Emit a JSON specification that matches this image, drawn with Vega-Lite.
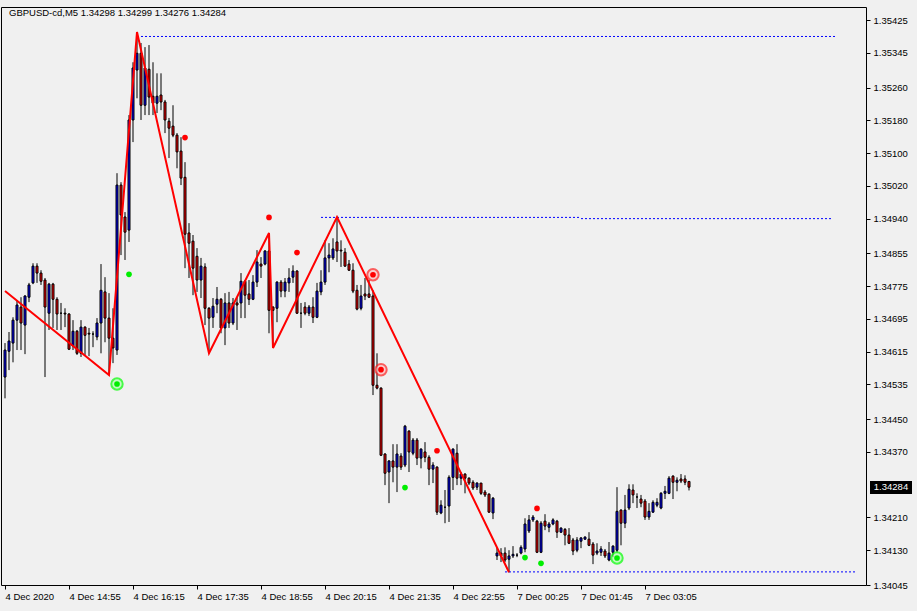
{
"$schema":"https://vega.github.io/schema/vega-lite/v6.json",
"width":865,"height":578,
"autosize":{"type":"none"},
"padding":{"left":1,"top":7,"right":51,"bottom":26},
"background":"#f0f0f0",
"config":{"view":{"stroke":"#000000","strokeWidth":1,"fill":"#f0f0f0"},"font":"Liberation Sans","axis":{"labelOverlap":false,"title":null,"grid":false},"scale":{"continuousPadding":0}},
"datasets":{
"bars":[
{"i":0,"o":1.34553,"h":1.34636,"l":1.34501,"c":1.34619},
{"i":1,"o":1.34616,"h":1.34663,"l":1.34570,"c":1.34641},
{"i":2,"o":1.34636,"h":1.34699,"l":1.34589,"c":1.34692},
{"i":3,"o":1.34692,"h":1.34741,"l":1.34619,"c":1.34729},
{"i":4,"o":1.34724,"h":1.34748,"l":1.34619,"c":1.34685},
{"i":5,"o":1.34680,"h":1.34753,"l":1.34609,"c":1.34751},
{"i":6,"o":1.34748,"h":1.34783,"l":1.34736,"c":1.34778},
{"i":7,"o":1.34783,"h":1.34831,"l":1.34780,"c":1.34824},
{"i":8,"o":1.34824,"h":1.34831,"l":1.34783,"c":1.34807},
{"i":9,"o":1.34807,"h":1.34814,"l":1.34778,"c":1.34787},
{"i":10,"o":1.34790,"h":1.34795,"l":1.34553,"c":1.34724},
{"i":11,"o":1.34709,"h":1.34783,"l":1.34668,"c":1.34780},
{"i":12,"o":1.34780,"h":1.34783,"l":1.34673,"c":1.34743},
{"i":13,"o":1.34743,"h":1.34748,"l":1.34668,"c":1.34707},
{"i":14,"o":1.34709,"h":1.34734,"l":1.34668,"c":1.34709},
{"i":15,"o":1.34709,"h":1.34721,"l":1.34675,"c":1.34707},
{"i":16,"o":1.34707,"h":1.34709,"l":1.34619,"c":1.34621},
{"i":17,"o":1.34629,"h":1.34692,"l":1.34619,"c":1.34665},
{"i":18,"o":1.34665,"h":1.34668,"l":1.34607,"c":1.34611},
{"i":19,"o":1.34611,"h":1.34692,"l":1.34602,"c":1.34675},
{"i":20,"o":1.34675,"h":1.34677,"l":1.34607,"c":1.34655},
{"i":21,"o":1.34660,"h":1.34673,"l":1.34604,"c":1.34658},
{"i":22,"o":1.34658,"h":1.34665,"l":1.34626,"c":1.34658},
{"i":23,"o":1.34651,"h":1.34697,"l":1.34643,"c":1.34685},
{"i":24,"o":1.34685,"h":1.34829,"l":1.34611,"c":1.34765},
{"i":25,"o":1.34761,"h":1.34797,"l":1.34638,"c":1.34697},
{"i":26,"o":1.34697,"h":1.34758,"l":1.34558,"c":1.34648},
{"i":27,"o":1.34648,"h":1.34721,"l":1.34587,"c":1.34624},
{"i":28,"o":1.34619,"h":1.35051,"l":1.34607,"c":1.35022},
{"i":29,"o":1.35022,"h":1.35029,"l":1.34851,"c":1.34949},
{"i":30,"o":1.34944,"h":1.34956,"l":1.34839,"c":1.34907},
{"i":31,"o":1.34912,"h":1.35193,"l":1.34883,"c":1.35181},
{"i":32,"o":1.35181,"h":1.35322,"l":1.35127,"c":1.35308},
{"i":33,"o":1.35303,"h":1.35396,"l":1.35234,"c":1.35344},
{"i":34,"o":1.35344,"h":1.35369,"l":1.35181,"c":1.35217},
{"i":35,"o":1.35217,"h":1.35359,"l":1.35193,"c":1.35308},
{"i":36,"o":1.35305,"h":1.35364,"l":1.35193,"c":1.35237},
{"i":37,"o":1.35239,"h":1.35322,"l":1.35193,"c":1.35222},
{"i":38,"o":1.35222,"h":1.35295,"l":1.35198,"c":1.35239},
{"i":39,"o":1.35242,"h":1.35295,"l":1.35205,"c":1.35225},
{"i":40,"o":1.35225,"h":1.35230,"l":1.35149,"c":1.35181},
{"i":41,"o":1.35178,"h":1.35186,"l":1.35088,"c":1.35161},
{"i":42,"o":1.35166,"h":1.35217,"l":1.35139,"c":1.35144},
{"i":43,"o":1.35144,"h":1.35149,"l":1.35063,"c":1.35103},
{"i":44,"o":1.35105,"h":1.35139,"l":1.35022,"c":1.35039},
{"i":45,"o":1.35041,"h":1.35078,"l":1.34819,"c":1.34902},
{"i":46,"o":1.34905,"h":1.34929,"l":1.34795,"c":1.34880},
{"i":47,"o":1.34885,"h":1.34900,"l":1.34753,"c":1.34819},
{"i":48,"o":1.34848,"h":1.34868,"l":1.34761,"c":1.34790},
{"i":49,"o":1.34790,"h":1.34844,"l":1.34746,"c":1.34824},
{"i":50,"o":1.34822,"h":1.34831,"l":1.34680,"c":1.34721},
{"i":51,"o":1.34721,"h":1.34724,"l":1.34611,"c":1.34697},
{"i":52,"o":1.34699,"h":1.34746,"l":1.34673,"c":1.34726},
{"i":53,"o":1.34731,"h":1.34773,"l":1.34709,"c":1.34743},
{"i":54,"o":1.34743,"h":1.34746,"l":1.34660,"c":1.34673},
{"i":55,"o":1.34673,"h":1.34758,"l":1.34631,"c":1.34734},
{"i":56,"o":1.34734,"h":1.34761,"l":1.34673,"c":1.34685},
{"i":57,"o":1.34685,"h":1.34746,"l":1.34680,"c":1.34734},
{"i":58,"o":1.34734,"h":1.34748,"l":1.34668,"c":1.34729},
{"i":59,"o":1.34734,"h":1.34807,"l":1.34697,"c":1.34787},
{"i":60,"o":1.34787,"h":1.34790,"l":1.34697,"c":1.34753},
{"i":61,"o":1.34756,"h":1.34790,"l":1.34729,"c":1.34743},
{"i":62,"o":1.34743,"h":1.34802,"l":1.34741,"c":1.34785},
{"i":63,"o":1.34785,"h":1.34863,"l":1.34773,"c":1.34834},
{"i":64,"o":1.34829,"h":1.34846,"l":1.34795,"c":1.34824},
{"i":65,"o":1.34829,"h":1.34863,"l":1.34826,"c":1.34861},
{"i":66,"o":1.34861,"h":1.34905,"l":1.34660,"c":1.34716},
{"i":67,"o":1.34724,"h":1.34726,"l":1.34624,"c":1.34716},
{"i":68,"o":1.34721,"h":1.34787,"l":1.34687,"c":1.34785},
{"i":69,"o":1.34785,"h":1.34790,"l":1.34748,"c":1.34763},
{"i":70,"o":1.34763,"h":1.34795,"l":1.34748,"c":1.34785},
{"i":71,"o":1.34783,"h":1.34819,"l":1.34761,"c":1.34795},
{"i":72,"o":1.34797,"h":1.34826,"l":1.34783,"c":1.34812},
{"i":73,"o":1.34812,"h":1.34814,"l":1.34707,"c":1.34709},
{"i":74,"o":1.34709,"h":1.34734,"l":1.34673,"c":1.34709},
{"i":75,"o":1.34724,"h":1.34736,"l":1.34704,"c":1.34709},
{"i":76,"o":1.34709,"h":1.34729,"l":1.34702,"c":1.34724},
{"i":77,"o":1.34724,"h":1.34748,"l":1.34685,"c":1.34699},
{"i":78,"o":1.34699,"h":1.34783,"l":1.34697,"c":1.34763},
{"i":79,"o":1.34761,"h":1.34814,"l":1.34753,"c":1.34785},
{"i":80,"o":1.34785,"h":1.34887,"l":1.34778,"c":1.34844},
{"i":81,"o":1.34844,"h":1.34880,"l":1.34809,"c":1.34851},
{"i":82,"o":1.34844,"h":1.34892,"l":1.34839,"c":1.34866},
{"i":83,"o":1.34883,"h":1.34944,"l":1.34834,"c":1.34861},
{"i":84,"o":1.34863,"h":1.34887,"l":1.34822,"c":1.34861},
{"i":85,"o":1.34858,"h":1.34868,"l":1.34822,"c":1.34824},
{"i":86,"o":1.34829,"h":1.34839,"l":1.34812,"c":1.34814},
{"i":87,"o":1.34814,"h":1.34831,"l":1.34758,"c":1.34763},
{"i":88,"o":1.34765,"h":1.34778,"l":1.34716,"c":1.34719},
{"i":89,"o":1.34721,"h":1.34778,"l":1.34716,"c":1.34751},
{"i":90,"o":1.34756,"h":1.34795,"l":1.34741,"c":1.34751},
{"i":91,"o":1.34756,"h":1.34790,"l":1.34746,"c":1.34748},
{"i":92,"o":1.34751,"h":1.34765,"l":1.34509,"c":1.34533},
{"i":93,"o":1.34533,"h":1.34611,"l":1.34523,"c":1.34526},
{"i":94,"o":1.34526,"h":1.34528,"l":1.34360,"c":1.34362},
{"i":95,"o":1.34365,"h":1.34367,"l":1.34289,"c":1.34318},
{"i":96,"o":1.34321,"h":1.34350,"l":1.34245,"c":1.34348},
{"i":97,"o":1.34348,"h":1.34389,"l":1.34296,"c":1.34333},
{"i":98,"o":1.34333,"h":1.34389,"l":1.34272,"c":1.34365},
{"i":99,"o":1.34360,"h":1.34367,"l":1.34326,"c":1.34333},
{"i":100,"o":1.34338,"h":1.34436,"l":1.34333,"c":1.34433},
{"i":101,"o":1.34421,"h":1.34423,"l":1.34321,"c":1.34370},
{"i":102,"o":1.34367,"h":1.34404,"l":1.34362,"c":1.34399},
{"i":103,"o":1.34399,"h":1.34404,"l":1.34338,"c":1.34355},
{"i":104,"o":1.34355,"h":1.34379,"l":1.34330,"c":1.34377},
{"i":105,"o":1.34370,"h":1.34394,"l":1.34345,"c":1.34357},
{"i":106,"o":1.34357,"h":1.34362,"l":1.34289,"c":1.34328},
{"i":107,"o":1.34328,"h":1.34345,"l":1.34294,"c":1.34338},
{"i":108,"o":1.34333,"h":1.34335,"l":1.34216,"c":1.34223},
{"i":109,"o":1.34221,"h":1.34252,"l":1.34218,"c":1.34240},
{"i":110,"o":1.34235,"h":1.34277,"l":1.34196,"c":1.34235},
{"i":111,"o":1.34238,"h":1.34313,"l":1.34199,"c":1.34308},
{"i":112,"o":1.34308,"h":1.34379,"l":1.34277,"c":1.34377},
{"i":113,"o":1.34367,"h":1.34389,"l":1.34289,"c":1.34306},
{"i":114,"o":1.34306,"h":1.34321,"l":1.34289,"c":1.34316},
{"i":115,"o":1.34316,"h":1.34318,"l":1.34269,"c":1.34306},
{"i":116,"o":1.34306,"h":1.34308,"l":1.34289,"c":1.34294},
{"i":117,"o":1.34296,"h":1.34301,"l":1.34277,"c":1.34282},
{"i":118,"o":1.34284,"h":1.34296,"l":1.34277,"c":1.34294},
{"i":119,"o":1.34294,"h":1.34294,"l":1.34265,"c":1.34269},
{"i":120,"o":1.34272,"h":1.34277,"l":1.34260,"c":1.34265},
{"i":121,"o":1.34267,"h":1.34269,"l":1.34221,"c":1.34223},
{"i":122,"o":1.34221,"h":1.34260,"l":1.34206,"c":1.34257},
{"i":123,"o":1.34116,"h":1.34137,"l":1.34106,"c":1.34123},
{"i":124,"o":1.34123,"h":1.34135,"l":1.34101,"c":1.34116},
{"i":125,"o":1.34123,"h":1.34137,"l":1.34101,"c":1.34106},
{"i":126,"o":1.34108,"h":1.34130,"l":1.34076,"c":1.34116},
{"i":127,"o":1.34116,"h":1.34140,"l":1.34111,"c":1.34120},
{"i":128,"o":1.34118,"h":1.34123,"l":1.34113,"c":1.34118},
{"i":129,"o":1.34123,"h":1.34142,"l":1.34120,"c":1.34137},
{"i":130,"o":1.34133,"h":1.34208,"l":1.34125,"c":1.34194},
{"i":131,"o":1.34177,"h":1.34216,"l":1.34172,"c":1.34204},
{"i":132,"o":1.34204,"h":1.34216,"l":1.34199,"c":1.34211},
{"i":133,"o":1.34201,"h":1.34204,"l":1.34123,"c":1.34125},
{"i":134,"o":1.34125,"h":1.34201,"l":1.34123,"c":1.34196},
{"i":135,"o":1.34201,"h":1.34218,"l":1.34179,"c":1.34189},
{"i":136,"o":1.34186,"h":1.34199,"l":1.34174,"c":1.34194},
{"i":137,"o":1.34194,"h":1.34208,"l":1.34191,"c":1.34204},
{"i":138,"o":1.34201,"h":1.34204,"l":1.34160,"c":1.34174},
{"i":139,"o":1.34174,"h":1.34186,"l":1.34172,"c":1.34184},
{"i":140,"o":1.34181,"h":1.34184,"l":1.34142,"c":1.34167},
{"i":141,"o":1.34167,"h":1.34184,"l":1.34145,"c":1.34147},
{"i":142,"o":1.34155,"h":1.34160,"l":1.34118,"c":1.34128},
{"i":143,"o":1.34130,"h":1.34162,"l":1.34125,"c":1.34155},
{"i":144,"o":1.34152,"h":1.34162,"l":1.34135,"c":1.34160},
{"i":145,"o":1.34157,"h":1.34164,"l":1.34155,"c":1.34162},
{"i":146,"o":1.34157,"h":1.34174,"l":1.34140,"c":1.34142},
{"i":147,"o":1.34145,"h":1.34150,"l":1.34096,"c":1.34118},
{"i":148,"o":1.34123,"h":1.34147,"l":1.34118,"c":1.34128},
{"i":149,"o":1.34125,"h":1.34140,"l":1.34116,"c":1.34133},
{"i":150,"o":1.34128,"h":1.34133,"l":1.34111,"c":1.34116},
{"i":151,"o":1.34106,"h":1.34150,"l":1.34103,"c":1.34123},
{"i":152,"o":1.34125,"h":1.34142,"l":1.34113,"c":1.34140},
{"i":153,"o":1.34130,"h":1.34284,"l":1.34125,"c":1.34225},
{"i":154,"o":1.34228,"h":1.34230,"l":1.34142,"c":1.34196},
{"i":155,"o":1.34196,"h":1.34265,"l":1.34184,"c":1.34228},
{"i":156,"o":1.34233,"h":1.34291,"l":1.34228,"c":1.34279},
{"i":157,"o":1.34277,"h":1.34291,"l":1.34245,"c":1.34265},
{"i":158,"o":1.34260,"h":1.34269,"l":1.34233,"c":1.34260},
{"i":159,"o":1.34255,"h":1.34265,"l":1.34235,"c":1.34245},
{"i":160,"o":1.34250,"h":1.34255,"l":1.34204,"c":1.34211},
{"i":161,"o":1.34211,"h":1.34245,"l":1.34204,"c":1.34225},
{"i":162,"o":1.34223,"h":1.34252,"l":1.34221,"c":1.34247},
{"i":163,"o":1.34240,"h":1.34257,"l":1.34235,"c":1.34247},
{"i":164,"o":1.34233,"h":1.34272,"l":1.34230,"c":1.34269},
{"i":165,"o":1.34269,"h":1.34287,"l":1.34255,"c":1.34274},
{"i":166,"o":1.34269,"h":1.34311,"l":1.34267,"c":1.34306},
{"i":167,"o":1.34311,"h":1.34313,"l":1.34255,"c":1.34296},
{"i":168,"o":1.34296,"h":1.34308,"l":1.34274,"c":1.34301},
{"i":169,"o":1.34304,"h":1.34316,"l":1.34294,"c":1.34299},
{"i":170,"o":1.34304,"h":1.34313,"l":1.34289,"c":1.34296},
{"i":171,"o":1.34298,"h":1.34299,"l":1.34276,"c":1.34284}
],
"zz":[
{"i":0,"p":1.34763},{"i":26,"p":1.34558},{"i":33,"p":1.35396},{"i":51,"p":1.34611},{"i":66,"p":1.34905},{"i":67,"p":1.34624},{"i":83,"p":1.34944},{"i":126,"p":1.34076}
],
"lvl":[
{"a":33,"b":208,"p":1.35385},{"a":79,"b":144,"p":1.34943},{"a":144,"b":207,"p":1.3494},{"a":125,"b":213,"p":1.34077}
],
"sig":[
{"i":45,"p":1.35138,"k":"rd"},{"i":66,"p":1.34943,"k":"rd"},{"i":73,"p":1.34857,"k":"rd"},{"i":108,"p":1.34373,"k":"rd"},{"i":133,"p":1.34232,"k":"rd"},
{"i":92,"p":1.34803,"k":"rr"},{"i":94,"p":1.34571,"k":"rr"},
{"i":31,"p":1.34804,"k":"gd"},{"i":100,"p":1.34283,"k":"gd"},{"i":130,"p":1.34112,"k":"gd"},{"i":134,"p":1.34098,"k":"gd"},
{"i":28,"p":1.34536,"k":"gr"},{"i":153,"p":1.34111,"k":"gr"}
],
"cur":[{"p":1.34284,"t":"1.34284","title":"GBPUSD-cd,M5  1.34298 1.34299 1.34276 1.34284"}]
},
"layer":[
{"data":{"name":"bars"},"mark":{"type":"rule","color":"#000000","strokeWidth":1},
 "encoding":{"x":{"field":"i","type":"quantitative","scale":{"domain":[-1,215.25],"nice":false,"zero":false,"padding":0},
   "axis":{"orient":"bottom","values":[0,16,32,48,64,80,96,112,128,144,160],"tickCount":40,"labelExpr":"['4 Dec 2020','4 Dec 14:55','4 Dec 16:15','4 Dec 17:35','4 Dec 18:55','4 Dec 20:15','4 Dec 21:35','4 Dec 22:55','7 Dec 00:25','7 Dec 01:45','7 Dec 03:05'][round(datum.value/16)]","domain":false,"grid":false,"ticks":true,"tickColor":"#000000","tickSize":4,"labelAlign":"left","labelFont":"Liberation Sans","labelFontSize":9.5,"labelColor":"#000000","labelPadding":2,"labelOverlap":false,"labelBound":false,"labelFlush":false,"title":null}},
 "y":{"field":"l","type":"quantitative","scale":{"domain":[1.34045,1.35457],"nice":false,"zero":false,"padding":0},
   "axis":{"orient":"right","values":[1.34045,1.3413,1.3421,1.3437,1.3445,1.34535,1.34615,1.34695,1.34775,1.34855,1.3494,1.3502,1.351,1.3518,1.3526,1.35345,1.35425],"tickCount":40,"format":".5f","domain":false,"grid":false,"ticks":true,"tickColor":"#000000","tickSize":4,"labelFont":"Liberation Sans","labelFontSize":9.5,"labelColor":"#000000","labelPadding":3,"labelOverlap":false,"labelBound":false,"labelFlush":false,"title":null}},
 "y2":{"field":"h"}}},
{"data":{"name":"bars"},"mark":{"type":"bar","size":2,"stroke":"#000000","strokeWidth":1},
 "encoding":{"x":{"field":"i","type":"quantitative","scale":{"domain":[-1,215.25],"nice":false,"zero":false,"padding":0}},
 "y":{"field":"o","type":"quantitative","scale":{"domain":[1.34045,1.35457],"nice":false,"zero":false,"padding":0}},"y2":{"field":"c"},
 "fill":{"condition":{"test":"datum.c > datum.o","value":"#0000ff"},"value":"#ff0000"}}},
{"data":{"name":"lvl"},"mark":{"type":"rule","color":"#0000ff","strokeWidth":1,"strokeDash":[2,2]},
 "encoding":{"x":{"field":"a","type":"quantitative","scale":{"domain":[-1,215.25],"nice":false,"zero":false,"padding":0}},"x2":{"field":"b"},
 "y":{"field":"p","type":"quantitative","scale":{"domain":[1.34045,1.35457],"nice":false,"zero":false,"padding":0}}}},
{"data":{"name":"zz"},"mark":{"type":"line","color":"#ff0000","strokeWidth":2},
 "encoding":{"x":{"field":"i","type":"quantitative","scale":{"domain":[-1,215.25],"nice":false,"zero":false,"padding":0}},
 "y":{"field":"p","type":"quantitative","scale":{"domain":[1.34045,1.35457],"nice":false,"zero":false,"padding":0}}}},
{"data":{"name":"sig"},"transform":[{"filter":"datum.k=='rr'||datum.k=='gr'"}],"mark":{"type":"point","shape":"circle","filled":false,"strokeWidth":2,"size":130},
 "encoding":{"x":{"field":"i","type":"quantitative","scale":{"domain":[-1,215.25],"nice":false,"zero":false,"padding":0}},
 "y":{"field":"p","type":"quantitative","scale":{"domain":[1.34045,1.35457],"nice":false,"zero":false,"padding":0}},
 "stroke":{"condition":{"test":"datum.k=='rr'","value":"#ff2020"},"value":"#00ff00"},
 "fill":{"condition":{"test":"datum.k=='rr'","value":"#ffc0c0"},"value":"#b0ffb0"},"fillOpacity":{"value":1}}},
{"data":{"name":"sig"},"mark":{"type":"point","shape":"circle","filled":true,"opacity":1,"size":32},
 "encoding":{"x":{"field":"i","type":"quantitative","scale":{"domain":[-1,215.25],"nice":false,"zero":false,"padding":0}},
 "y":{"field":"p","type":"quantitative","scale":{"domain":[1.34045,1.35457],"nice":false,"zero":false,"padding":0}},
 "color":{"condition":{"test":"datum.k=='rd'||datum.k=='rr'","value":"#ff0000"},"value":"#00ee00"}}},
{"data":{"name":"cur"},"mark":{"type":"rect","color":"#000000"},
 "encoding":{"x":{"datum":216.25,"type":"quantitative","scale":{"domain":[-1,215.25],"nice":false,"zero":false,"padding":0}},"x2":{"datum":226.75},
 "y":{"datum":1.34299,"type":"quantitative","scale":{"domain":[1.34045,1.35457],"nice":false,"zero":false,"padding":0}},"y2":{"datum":1.34267}}},
{"data":{"name":"cur"},"mark":{"type":"text","color":"#ffffff","font":"Liberation Sans","fontSize":9.5,"align":"center","baseline":"middle"},
 "encoding":{"x":{"datum":221.5,"type":"quantitative","scale":{"domain":[-1,215.25],"nice":false,"zero":false,"padding":0}},
 "y":{"field":"p","type":"quantitative","scale":{"domain":[1.34045,1.35457],"nice":false,"zero":false,"padding":0}},"text":{"field":"t"}}},
{"data":{"name":"cur"},"mark":{"type":"text","color":"#000000","font":"Liberation Sans","fontSize":9.5,"align":"left","baseline":"middle"},
 "encoding":{"x":{"datum":1,"type":"quantitative","scale":{"domain":[-1,215.25],"nice":false,"zero":false,"padding":0}},
 "y":{"datum":1.35442,"type":"quantitative","scale":{"domain":[1.34045,1.35457],"nice":false,"zero":false,"padding":0}},"text":{"field":"title"}}}
]
}
